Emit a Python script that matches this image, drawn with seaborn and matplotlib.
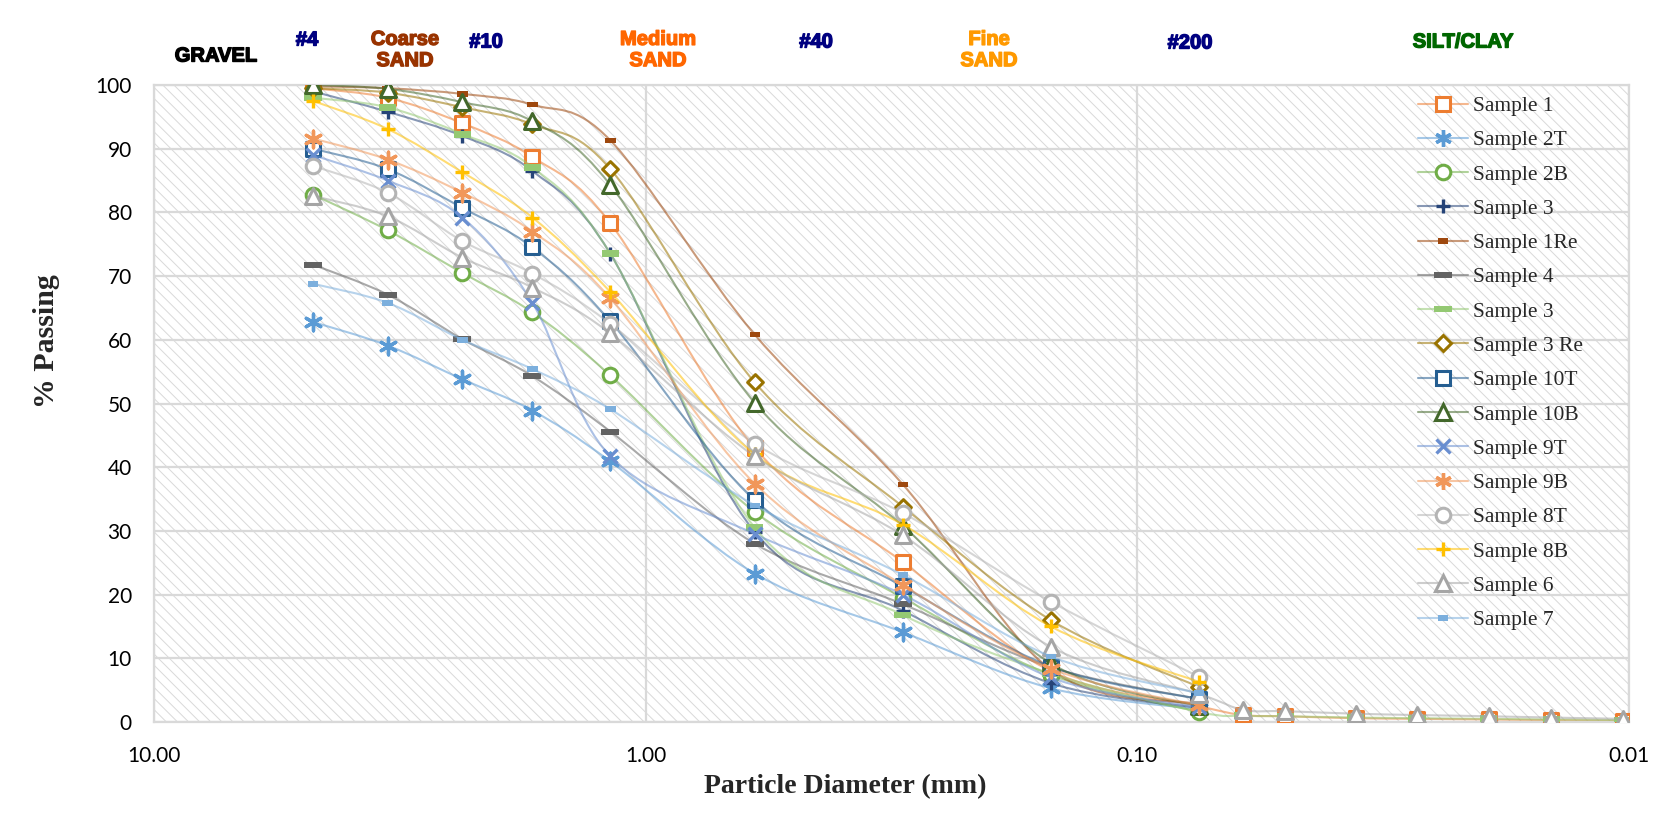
import numpy as np
import pandas as pd
import matplotlib
matplotlib.use("Agg")
import matplotlib.pyplot as plt
from matplotlib.path import Path
from matplotlib.patches import PathPatch, Rectangle
from matplotlib.lines import Line2D
import matplotlib.colors as mcolors
import matplotlib.patheffects as pe
import seaborn as sns

# ---------------- data ----------------
sieve_mm = [4.75, 3.35, 2.36, 1.70, 1.18, 0.60, 0.30, 0.15, 0.075]
hydro_mm = [0.061, 0.050, 0.036, 0.027, 0.0193, 0.0144, 0.0103]

sample_1 = [99.5, 98.0, 94.0, 88.7, 78.3, 43.0, 25.1, 8.0, 2.5, 1.1, 0.9, 0.6, 0.5, 0.4, 0.3, 0.2]
sample_2T = [62.8, 59.1, 53.8, 48.9, 40.9, 23.3, 14.1, 5.3, 2.0]
sample_2B = [82.8, 77.2, 70.5, 64.3, 54.4, 33.0, 19.5, 7.4, 1.6]
sample_3 = [99.0, 95.8, 92.0, 86.5, 73.5, 29.8, 17.5, 6.1, 2.2]
sample_1Re = [99.8, 99.5, 98.6, 96.9, 91.3, 60.8, 37.3, 8.2, 2.8]
sample_4 = [71.8, 67.1, 60.1, 54.3, 45.6, 28.0, 18.5, 8.6, 3.6]
sample_3b = [98.0, 96.5, 92.3, 87.1, 73.5, 30.5, 16.8, 7.6, 1.6, 1.0, 0.9, 0.7, 0.6, 0.5, 0.4, 0.3]
sample_3Re = [99.5, 98.8, 96.5, 93.8, 86.8, 53.3, 33.8, 16.0, 5.5]
sample_10T = [90.0, 86.8, 80.7, 74.5, 62.9, 34.8, 21.3, 8.7, 3.6]
sample_10B = [100.0, 99.4, 97.3, 94.3, 84.3, 50.1, 30.8, 9.2, 2.5]
sample_9T = [89.0, 85.0, 79.2, 65.8, 41.7, 29.5, 20.0, 7.0, 2.3]
sample_9B = [91.6, 88.3, 83.1, 77.0, 66.5, 37.4, 21.5, 8.4, 2.6]
sample_8T = [87.3, 83.1, 75.5, 70.4, 62.5, 43.7, 32.8, 18.9, 7.1]
sample_8B = [97.5, 93.1, 86.3, 79.2, 67.5, 42.0, 31.0, 15.0, 6.3]
sample_6 = [82.6, 79.4, 72.9, 68.2, 61.0, 41.7, 29.3, 11.8, 4.4, 1.9, 1.7, 1.3, 1.1, 0.9, 0.7, 0.5]
sample_7 = [68.8, 65.8, 60.0, 55.4, 49.1, 34.0, 23.1, 10.3, 4.5]

legend_labels = ["Sample 1", "Sample 2T", "Sample 2B", "Sample 3", "Sample 1Re", "Sample 4",
                 "Sample 3", "Sample 3 Re", "Sample 10T", "Sample 10B", "Sample 9T", "Sample 9B",
                 "Sample 8T", "Sample 8B", "Sample 6", "Sample 7"]
series_values = [sample_1, sample_2T, sample_2B, sample_3, sample_1Re, sample_4, sample_3b,
                 sample_3Re, sample_10T, sample_10B, sample_9T, sample_9B, sample_8T,
                 sample_8B, sample_6, sample_7]

x_tick_values = [10, 1, 0.1, 0.01]
x_tick_labels = ["10.00", "1.00", "0.10", "0.01"]
y_tick_values = list(range(0, 101, 10))

zone_labels = ["GRAVEL", "#4", "Coarse\nSAND", "#10", "Medium\nSAND", "#40", "Fine\nSAND", "#200", "SILT/CLAY"]

# ---------------- styles ----------------
def rect_marker(w, h):
    return Path([(-w, -h), (w, -h), (w, h), (-w, h), (-w, -h)],
                [Path.MOVETO, Path.LINETO, Path.LINETO, Path.LINETO, Path.CLOSEPOLY])

ASTER = (6, 2, 0)
styles = [
    dict(c="#ED7D31", m="s", ms=10.5, hollow=True),
    dict(c="#5B9BD5", m=ASTER, ms=12, hollow=False),
    dict(c="#70AD47", m="o", ms=10.5, hollow=True),
    dict(c="#264478", m="+", ms=10, hollow=False),
    dict(c="#9E480E", m=rect_marker(1, 0.5), ms=7.5, hollow=None),
    dict(c="#636363", m=rect_marker(1, 0.33), ms=13, hollow=None),
    dict(c="#94C973", m=rect_marker(1, 0.4), ms=12.5, hollow=None),
    dict(c="#997300", m="D", ms=8, hollow=True),
    dict(c="#255E91", m="s", ms=10.5, hollow=True),
    dict(c="#43682B", m="^", ms=11.5, hollow=True),
    dict(c="#698ED0", m="x", ms=10, hollow=False),
    dict(c="#F1975A", m=ASTER, ms=12, hollow=False),
    dict(c="#B4B4B4", m="o", ms=10.5, hollow=True),
    dict(c="#FFC000", m="+", ms=10.5, hollow=False),
    dict(c="#A5A5A5", m="^", ms=11.5, hollow=True),
    dict(c="#7CAFDD", m=rect_marker(1, 0.55), ms=7.5, hollow=None),
]

# ---------------- figure ----------------
sns.set_theme(style="white")
plt.rcParams["hatch.linewidth"] = 0.7

fig = plt.figure(figsize=(16.71, 8.15), dpi=100)
ax = fig.add_axes([0.0922, 0.1141, 0.9749 - 0.0922, 0.8957 - 0.1141])
ax.set_facecolor("white")
ax.add_patch(Rectangle((0, 0), 1, 1, transform=ax.transAxes, facecolor="white",
                       edgecolor="#D9D9D9", hatch="\\\\\\", linewidth=0, zorder=0))

ax.set_xscale("log")
ax.set_xlim(10, 0.01)
ax.set_ylim(0, 100)


def smooth_path(xs, ys):
    pts = np.column_stack([np.log10(xs), ys])
    n = len(pts)
    verts = [pts[0]]
    codes = [Path.MOVETO]
    for i in range(n - 1):
        p0 = pts[i - 1] if i > 0 else pts[i]
        p1 = pts[i]
        p2 = pts[i + 1]
        p3 = pts[i + 2] if i + 2 < n else pts[i + 1]
        c1 = p1 + (p2 - p0) / 6.0
        c2 = p2 - (p3 - p1) / 6.0
        verts += [c1, c2, p2]
        codes += [Path.CURVE4] * 3
    verts = np.array(verts)
    verts[:, 0] = 10 ** verts[:, 0]
    return Path(verts, codes)


handles = []
for i, (label, vals, st) in enumerate(zip(legend_labels, series_values, styles)):
    diam = (sieve_mm + hydro_mm)[:len(vals)]
    df = pd.DataFrame({"d": diam, "p": vals})
    rgb = mcolors.to_rgb(st["c"])
    line_col = (*rgb, 0.55)
    ax.add_patch(PathPatch(smooth_path(df["d"].values, df["p"].values), facecolor="none",
                           edgecolor=line_col, linewidth=1.5, zorder=2 + 2 * i))
    kw = dict(marker=st["m"], s=st["ms"] ** 2, zorder=3 + 2 * i, legend=False, ax=ax)
    if st["hollow"] is True:
        sns.scatterplot(data=df, x="d", y="p", facecolor="white", edgecolor=st["c"],
                        linewidth=2.2, **kw)
        h = Line2D([], [], color=line_col, lw=1.5, marker=st["m"], markersize=st["ms"],
                   mfc="white", mec=st["c"], mew=2.2)
    elif st["hollow"] is False:
        sns.scatterplot(data=df, x="d", y="p", color=st["c"], linewidth=2.4, **kw)
        h = Line2D([], [], color=line_col, lw=1.5, marker=st["m"], markersize=st["ms"],
                   mfc=st["c"], mec=st["c"], mew=2.4)
    else:
        sns.scatterplot(data=df, x="d", y="p", facecolor=st["c"], edgecolor="none",
                        linewidth=0, **kw)
        h = Line2D([], [], color=line_col, lw=1.5, marker=st["m"], markersize=st["ms"],
                   mfc=st["c"], mec="none", mew=0)
    handles.append(h)

# grid, ticks, spines
ax.set_xticks(x_tick_values)
ax.set_xticklabels(x_tick_labels)
ax.xaxis.set_minor_locator(matplotlib.ticker.NullLocator())
ax.set_yticks(y_tick_values)
ax.grid(True, which="major", color="#D9D9D9", linewidth=1.6, zorder=1)
ax.set_axisbelow(True)
for sp in ax.spines.values():
    sp.set_color("#D9D9D9")
    sp.set_linewidth(1.6)
ax.tick_params(axis="both", length=0, labelsize=15, colors="black")
ax.tick_params(axis="y", pad=16)
ax.tick_params(axis="x", pad=17)
for t in ax.get_xticklabels() + ax.get_yticklabels():
    t.set_fontfamily("Lato")

ax.set_xlabel("")
ax.set_ylabel("")
fig.text(845 / 1671, 1 - 787 / 815, "Particle Diameter (mm)", ha="center", va="center",
         fontfamily="Liberation Serif", fontweight="bold", fontsize=20)
fig.text(46 / 1671, 1 - 341 / 815, "% Passing", ha="center", va="center", rotation=90,
         fontfamily="Liberation Serif", fontweight="bold", fontsize=21.5)

# zone labels above plot
zone_pos = [(216, 56), (307, 40), (405, 50), (486, 42), (658, 50), (816, 42), (989, 50), (1190, 43), (1463, 42)]
zone_cols = ["black", "#000080", "#993300", "#000080", "#FF6600", "#000080", "#FF9900", "#000080", "#006600"]
for txt, (px, py), col in zip(zone_labels, zone_pos, zone_cols):
    fig.text(px / 1671, 1 - py / 815, txt, ha="center", va="center", color=col,
             fontfamily="Liberation Sans", fontweight="bold", fontsize=14.5, linespacing=1.15,
             path_effects=[pe.withStroke(linewidth=1.0, foreground=col)])

leg = ax.legend(handles, legend_labels, loc="upper left",
                bbox_to_anchor=(1418 / 1671, 1 - 96 / 815), bbox_transform=fig.transFigure,
                frameon=False, borderpad=0, borderaxespad=0, handlelength=2.3,
                handletextpad=0.25, labelspacing=0.66,
                prop={"family": "Liberation Serif", "size": 15.5})
leg.set_zorder(50)

fig.savefig("out.png", dpi=100, facecolor="white")
